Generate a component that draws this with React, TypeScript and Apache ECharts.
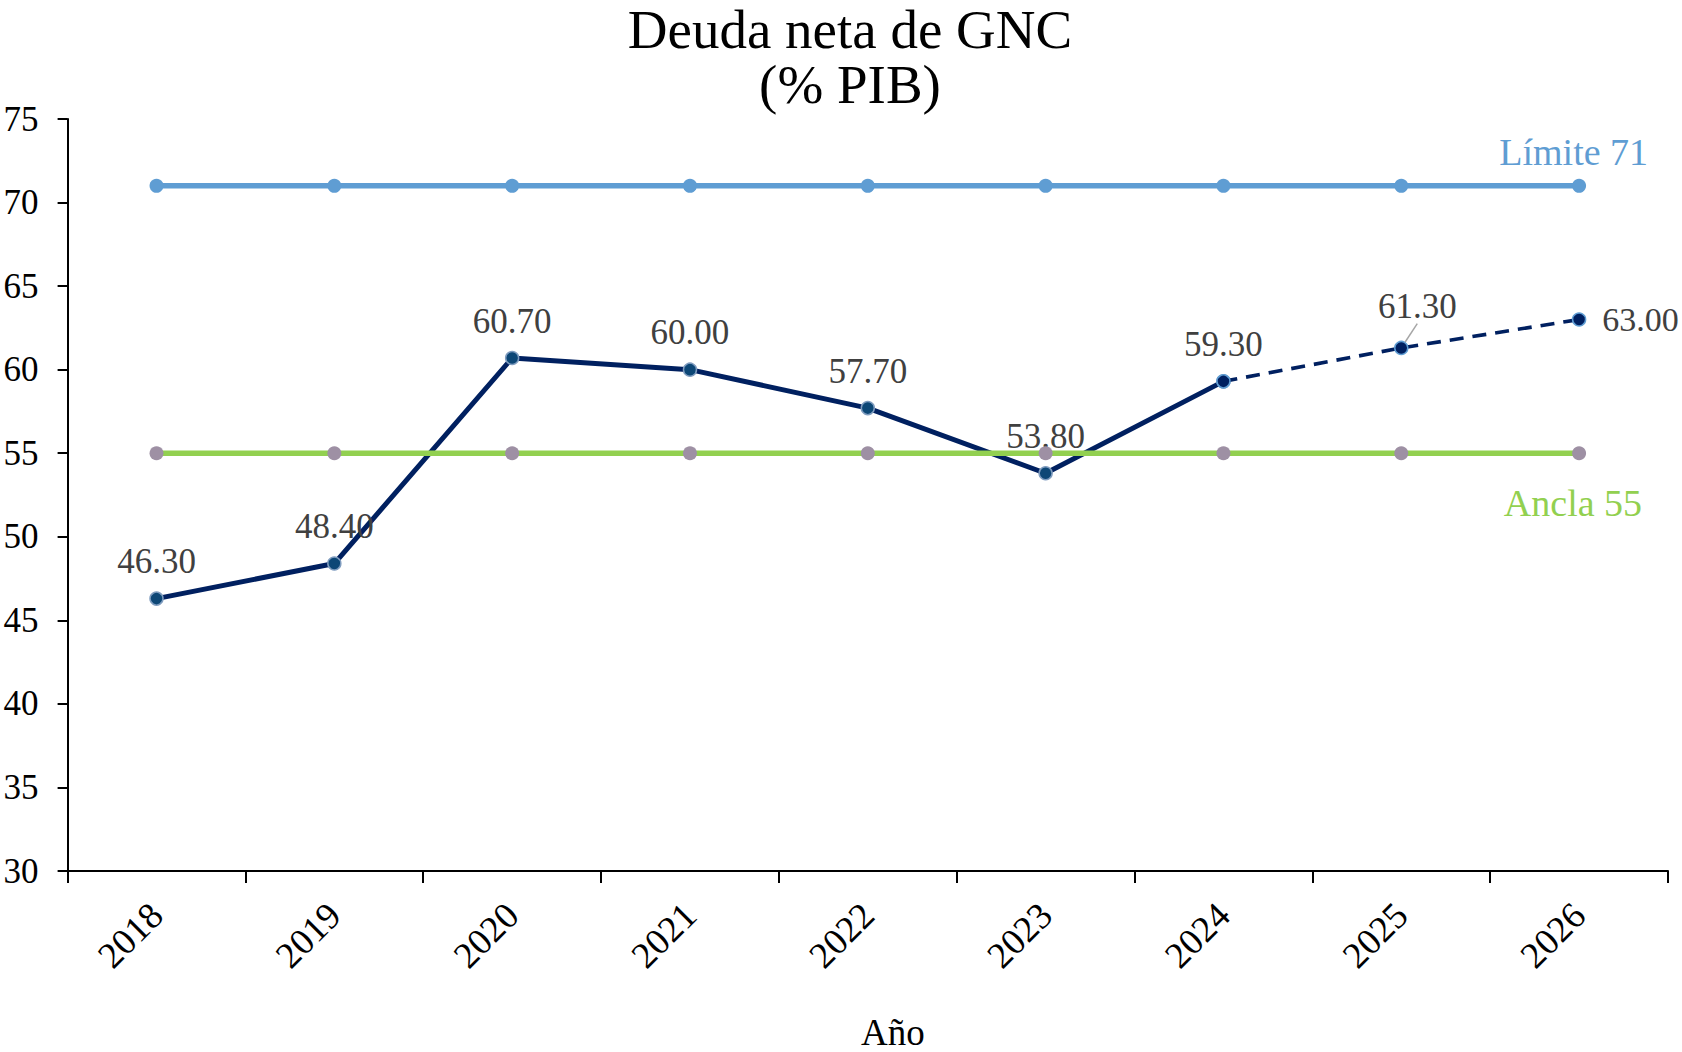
import React, { useEffect, useRef } from "react";
import * as echarts from "echarts";

const years = ["2018", "2019", "2020", "2021", "2022", "2023", "2024", "2025", "2026"];
const debtActual = [46.3, 48.4, 60.7, 60.0, 57.7, 53.8, 59.3, null, null];
const debtProjected = [null, null, null, null, null, null, 59.3, 61.3, 63.0];
const limitValues = [71, 71, 71, 71, 71, 71, 71, 71, 71];
const anchorValues = [55, 55, 55, 55, 55, 55, 55, 55, 55];
const limitText = "Límite 71";
const anchorText = "Ancla 55";
const yTicks = { min: 30, max: 75, interval: 5 };

const FONT = "'Liberation Serif', 'DejaVu Serif', serif";
const LABEL_COLOR = "#404040";
const NAVY = "#002060";
const BLUE = "#5F9DD3";
const GREEN = "#92D050";

export default function App() {
  const ref = useRef<HTMLDivElement>(null);

  useEffect(() => {
    if (!ref.current) return;
    const chart = echarts.init(ref.current, undefined, { renderer: "svg" });
    const last = years.length - 1;

    const dataLabel = {
      show: true,
      position: "top",
      distance: 12,
      color: LABEL_COLOR,
      fontFamily: FONT,
      fontSize: 35,
      formatter: (p: any) => (p.value == null ? "" : Number(p.value).toFixed(2)),
    };

    const option: any = {
      animation: false,
      backgroundColor: "#ffffff",
      title: {
        text: "Deuda neta de GNC\n(% PIB)",
        left: 850,
        top: 2,
        padding: 0,
        textAlign: "center",
        textStyle: {
          fontFamily: FONT,
          fontSize: 55,
          fontWeight: "normal",
          color: "#000000",
          lineHeight: 55,
        },
      },
      grid: {
        left: 67.6,
        right: 14,
        top: 119,
        bottom: 181,
        containLabel: false,
        outerBoundsMode: "none",
      },
      xAxis: {
        type: "category",
        data: years,
        boundaryGap: true,
        name: "Año",
        nameLocation: "middle",
        nameGap: 143,
        nameTextStyle: {
          fontFamily: FONT,
          fontSize: 37,
          color: "#000000",
          padding: [0, 0, 0, 50],
        },
        axisLine: { lineStyle: { color: "#000000", width: 2 } },
        axisTick: { show: true, length: 12, lineStyle: { color: "#000000", width: 2 } },
        axisLabel: {
          rotate: 45,
          margin: 38,
          fontFamily: FONT,
          fontSize: 37,
          color: "#000000",
        },
        splitLine: { show: false },
      },
      yAxis: {
        type: "value",
        min: yTicks.min,
        max: yTicks.max,
        interval: yTicks.interval,
        axisLine: { show: true, lineStyle: { color: "#000000", width: 2 } },
        axisTick: { show: true, length: 10, lineStyle: { color: "#000000", width: 2 } },
        axisLabel: {
          margin: 29,
          fontFamily: FONT,
          fontSize: 35,
          color: "#000000",
        },
        splitLine: { show: false },
      },
      series: [
        {
          name: "Límite",
          type: "line",
          data: limitValues.map((v, i) =>
            i === last
              ? {
                  value: v,
                  label: {
                    show: true,
                    position: "top",
                    distance: 8,
                    align: "right",
                    offset: [69, 0],
                    formatter: limitText,
                    color: BLUE,
                    fontFamily: FONT,
                    fontSize: 38,
                  },
                }
              : v
          ),
          symbol: "circle",
          symbolSize: 14,
          itemStyle: { color: BLUE },
          lineStyle: { color: BLUE, width: 5.5 },
          z: 2,
        },
        {
          name: "Deuda",
          type: "line",
          data: debtActual,
          symbol: "circle",
          symbolSize: 13,
          itemStyle: { color: "#0D4776", borderColor: "#7F9CBF", borderWidth: 1.5 },
          lineStyle: { color: NAVY, width: 5 },
          label: dataLabel,
          z: 3,
        },
        {
          name: "Proyección",
          type: "line",
          data: debtProjected.map((v, i) =>
            i === last
              ? {
                  value: v,
                  label: { ...dataLabel, position: "right", distance: 16, fontSize: 34 },
                  labelLine: { show: false },
                }
              : i === 6
              ? { value: v, label: { show: false }, labelLine: { show: false } }
              : v
          ),
          symbol: "circle",
          symbolSize: 13,
          itemStyle: { color: NAVY, borderColor: BLUE, borderWidth: 1.5 },
          lineStyle: { color: NAVY, width: 3.6, type: [14, 9] },
          label: dataLabel,
          labelLine: { show: true, lineStyle: { color: "#A6A6A6", width: 1.5 } },
          labelLayout: (p: any) => (p.dataIndex === 7 ? { dx: 16, dy: -5 } : {}),
          z: 4,
        },
        {
          name: "Ancla",
          type: "line",
          data: anchorValues.map((v, i) =>
            i === last
              ? {
                  value: v,
                  label: {
                    show: true,
                    position: "bottom",
                    distance: 24,
                    align: "right",
                    offset: [63, 0],
                    formatter: anchorText,
                    color: GREEN,
                    fontFamily: FONT,
                    fontSize: 38,
                  },
                }
              : v
          ),
          symbol: "circle",
          symbolSize: 14,
          itemStyle: { color: "#9E90A4" },
          lineStyle: { color: GREEN, width: 5.5 },
          z: 5,
        },
      ],
    };

    chart.setOption(option);
    return () => chart.dispose();
  }, []);

  return (
    <div
      ref={ref}
      style={{ position: "fixed", left: 0, top: 0, width: 1682, height: 1052, background: "#fff" }}
    />
  );
}
